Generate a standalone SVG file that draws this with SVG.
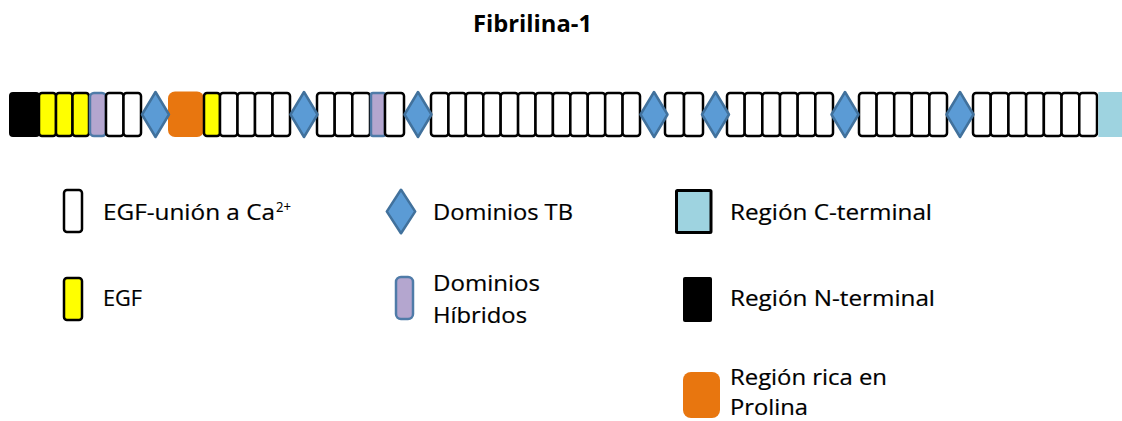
<svg xmlns="http://www.w3.org/2000/svg" width="1122" height="421" viewBox="0 0 1122 421">
<style>
.w{fill:#fff;stroke:#000;stroke-width:2.5}
.y{fill:#ffff00;stroke:#000;stroke-width:2.5}
.n{fill:#000;stroke:#000;stroke-width:2}
.h{fill:#b4a6cf;stroke:#4f7ba8;stroke-width:2.5}
.d{fill:#5b9bd5;stroke:#41719c;stroke-width:2.5;stroke-linejoin:round}
.o{fill:#e8760f}
.c{fill:#9ed3e0}
.cl{fill:#9ed3e0;stroke:#000;stroke-width:3}
.t{font-family:"Open Sans","Liberation Sans",sans-serif;font-size:21.5px;fill:#000;stroke:#000;stroke-width:0.2}
.ti{font-family:"Open Sans","Liberation Sans",sans-serif;font-size:23px;font-weight:bold;fill:#000}
</style>
<defs>
<polygon id="dia" points="0,-22.5 13.5,0 0,22.5 -13.5,0"/>
</defs>
<rect width="1122" height="421" fill="#fff"/>
<g id="title"><text class="ti" x="473" y="32" textLength="119" lengthAdjust="spacingAndGlyphs">Fibrilina-1</text></g>
<g id="bar">
<g id="n-term"><rect class="n" x="10" y="93" width="29" height="43" rx="3"/></g>
<g id="egf-1">
<rect class="y" x="39" y="93" width="17" height="43" rx="3"/>
<rect class="y" x="56" y="93" width="16.5" height="43" rx="3"/>
<rect class="y" x="72.5" y="93" width="16.5" height="43" rx="3"/>
</g>
<g id="hybrid-1"><rect class="h" x="90" y="93" width="16" height="43" rx="4"/></g>
<g id="cb-1">
<rect class="w" x="106" y="93" width="17.5" height="43" rx="3"/>
<rect class="w" x="123.5" y="93" width="17.5" height="43" rx="3"/>
</g>
<g id="proline"><rect class="o" x="168" y="91.5" width="36" height="45.5" rx="7"/></g>
<g id="egf-2"><rect class="y" x="204" y="93" width="16" height="43" rx="3"/></g>
<g id="cb-2">
<rect class="w" x="220" y="93" width="17.5" height="43" rx="3"/>
<rect class="w" x="237.5" y="93" width="17.5" height="43" rx="3"/>
<rect class="w" x="255" y="93" width="17.5" height="43" rx="3"/>
<rect class="w" x="272.5" y="93" width="17.5" height="43" rx="3"/>
</g>
<g id="cb-3">
<rect class="w" x="317" y="93" width="17.7" height="43" rx="3"/>
<rect class="w" x="334.7" y="93" width="17.6" height="43" rx="3"/>
<rect class="w" x="352.3" y="93" width="17.7" height="43" rx="3"/>
</g>
<g id="hybrid-2"><rect class="h" x="371" y="93" width="14" height="43" rx="2"/></g>
<g id="cb-4"><rect class="w" x="385" y="93" width="19" height="43" rx="3"/></g>
<g id="cb-5">
<rect class="w" x="431" y="93" width="17.42" height="43" rx="3"/>
<rect class="w" x="448.42" y="93" width="17.42" height="43" rx="3"/>
<rect class="w" x="465.83" y="93" width="17.42" height="43" rx="3"/>
<rect class="w" x="483.25" y="93" width="17.42" height="43" rx="3"/>
<rect class="w" x="500.67" y="93" width="17.42" height="43" rx="3"/>
<rect class="w" x="518.08" y="93" width="17.42" height="43" rx="3"/>
<rect class="w" x="535.5" y="93" width="17.42" height="43" rx="3"/>
<rect class="w" x="552.92" y="93" width="17.42" height="43" rx="3"/>
<rect class="w" x="570.33" y="93" width="17.42" height="43" rx="3"/>
<rect class="w" x="587.75" y="93" width="17.42" height="43" rx="3"/>
<rect class="w" x="605.17" y="93" width="17.42" height="43" rx="3"/>
<rect class="w" x="622.58" y="93" width="17.42" height="43" rx="3"/>
</g>
<g id="cb-6">
<rect class="w" x="665" y="93" width="19" height="43" rx="3"/>
<rect class="w" x="684" y="93" width="19" height="43" rx="3"/>
</g>
<g id="cb-7">
<rect class="w" x="727" y="93" width="17.67" height="43" rx="3"/>
<rect class="w" x="744.67" y="93" width="17.67" height="43" rx="3"/>
<rect class="w" x="762.33" y="93" width="17.67" height="43" rx="3"/>
<rect class="w" x="780" y="93" width="17.67" height="43" rx="3"/>
<rect class="w" x="797.67" y="93" width="17.67" height="43" rx="3"/>
<rect class="w" x="815.33" y="93" width="17.67" height="43" rx="3"/>
</g>
<g id="cb-8">
<rect class="w" x="859" y="93" width="17.6" height="43" rx="3"/>
<rect class="w" x="876.6" y="93" width="17.6" height="43" rx="3"/>
<rect class="w" x="894.2" y="93" width="17.6" height="43" rx="3"/>
<rect class="w" x="911.8" y="93" width="17.6" height="43" rx="3"/>
<rect class="w" x="929.4" y="93" width="17.6" height="43" rx="3"/>
</g>
<g id="cb-9">
<rect class="w" x="973" y="93" width="17.71" height="43" rx="3"/>
<rect class="w" x="990.71" y="93" width="17.71" height="43" rx="3"/>
<rect class="w" x="1008.43" y="93" width="17.71" height="43" rx="3"/>
<rect class="w" x="1026.14" y="93" width="17.71" height="43" rx="3"/>
<rect class="w" x="1043.86" y="93" width="17.71" height="43" rx="3"/>
<rect class="w" x="1061.57" y="93" width="17.71" height="43" rx="3"/>
<rect class="w" x="1079.29" y="93" width="17.71" height="43" rx="3"/>
</g>
<g id="c-term"><rect class="c" x="1098.3" y="92" width="30" height="45"/></g>
<g id="tb-domains">
<use href="#dia" class="d" x="155.5" y="114.5"/>
<use href="#dia" class="d" x="304" y="114.5"/>
<use href="#dia" class="d" x="418" y="114.5"/>
<use href="#dia" class="d" x="654" y="114.5"/>
<use href="#dia" class="d" x="715.5" y="114.5"/>
<use href="#dia" class="d" x="845" y="114.5"/>
<use href="#dia" class="d" x="960" y="114.5"/>
</g>
</g>
<g id="legend-cb">
<rect class="w" x="64" y="190" width="18" height="42" rx="3"/>
<text class="t" x="103" y="220" textLength="172" lengthAdjust="spacingAndGlyphs">EGF-unión a Ca</text>
<text class="t" x="276" y="212" style="font-size:15px;stroke-width:0.1" textLength="15" lengthAdjust="spacingAndGlyphs">2+</text>
</g>
<g id="legend-egf">
<rect class="y" x="64" y="278" width="18" height="42" rx="3"/>
<text class="t" x="103" y="306" textLength="39" lengthAdjust="spacingAndGlyphs">EGF</text>
</g>
<g id="legend-tb">
<use href="#dia" class="d" x="401" y="211.5" transform="translate(401 211.5) scale(1.05 0.97) translate(-401 -211.5)"/>
<text class="t" x="433" y="220" textLength="140" lengthAdjust="spacingAndGlyphs">Dominios TB</text>
</g>
<g id="legend-hybrid">
<rect class="h" x="396" y="277" width="17" height="42" rx="5"/>
<text class="t" x="433" y="291" textLength="107" lengthAdjust="spacingAndGlyphs">Dominios</text>
<text class="t" x="433" y="323" textLength="94" lengthAdjust="spacingAndGlyphs">Híbridos</text>
</g>
<g id="legend-cterm">
<rect class="cl" x="676.5" y="190.5" width="34.5" height="42" rx="1"/>
<text class="t" x="730" y="220" textLength="202" lengthAdjust="spacingAndGlyphs">Región C-terminal</text>
</g>
<g id="legend-nterm">
<rect x="683" y="277" width="29" height="45" rx="2" fill="#000"/>
<text class="t" x="730" y="306" textLength="205" lengthAdjust="spacingAndGlyphs">Región N-terminal</text>
</g>
<g id="legend-proline">
<rect class="o" x="683" y="372" width="37" height="46" rx="8"/>
<text class="t" x="730" y="385" textLength="157" lengthAdjust="spacingAndGlyphs">Región rica en</text>
<text class="t" x="730" y="415" textLength="78" lengthAdjust="spacingAndGlyphs">Prolina</text>
</g>
</svg>
